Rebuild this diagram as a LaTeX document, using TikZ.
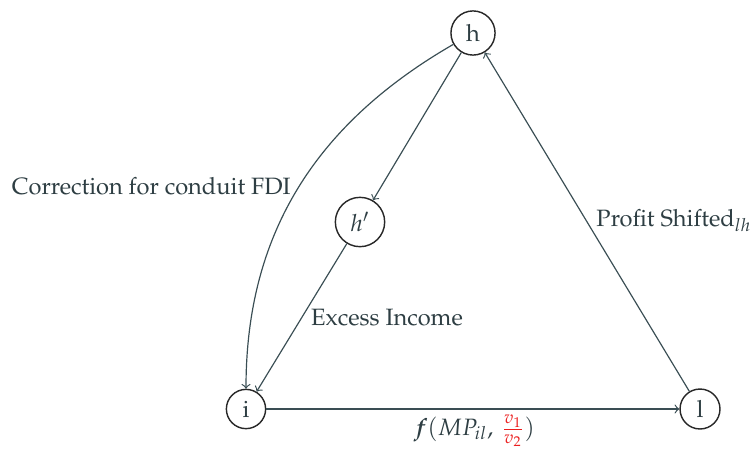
\documentclass[tikz,border=0pt]{standalone}
\usepackage[T1]{fontenc}
\usepackage{mathpazo}
\usepackage{amsmath}
\usepackage{bm}
\usetikzlibrary{arrows}

\definecolor{inkcol}{RGB}{46,62,67}
\definecolor{edgecol}{RGB}{58,78,84}
\definecolor{ringcol}{RGB}{40,40,40}
\definecolor{redcol}{RGB}{235,30,30}

\tikzset{
  statenode/.style={circle, draw=ringcol, semithick, text=inkcol, fill=white},
  flow/.style={->, edgecol, line width=0.5pt},
  lbl/.style={text=inkcol, inner sep=0pt}
}

\begin{document}
\begin{tikzpicture}[x=0.423pt, y=-0.423pt]
  \useasboundingbox (0,0) rectangle (754,449);

  % states
  \node[statenode] (h)  at (473,33)  {h};
  \node[statenode] (hp) at (360,222) {$h'$};
  \node[statenode] (i)  at (246,409) {i};
  \node[statenode] (l)  at (700,409) {l};

  % flows between states
  \draw[flow] (h) -- (hp);
  \draw[flow] (hp) -- (i);
  \draw[flow] (h) to[out=210, in=90] (i);
  \draw[flow] (i) -- (l);
  \draw[flow] (l) -- (h);

  % flow labels
  \node[lbl, anchor=east] (corr) at (291,186) {Correction for conduit FDI};
  \node[lbl] (excess) at (387,318) {Excess Income};
  \node[lbl, anchor=west] (profit) at (596,221) {Profit Shifted$_{lh}$};
  \node[lbl] (fmp) at (474,431) {$\bm{f}(MP_{il},\, \textcolor{redcol}{\frac{v_1}{v_2}})$};
\end{tikzpicture}
\end{document}
